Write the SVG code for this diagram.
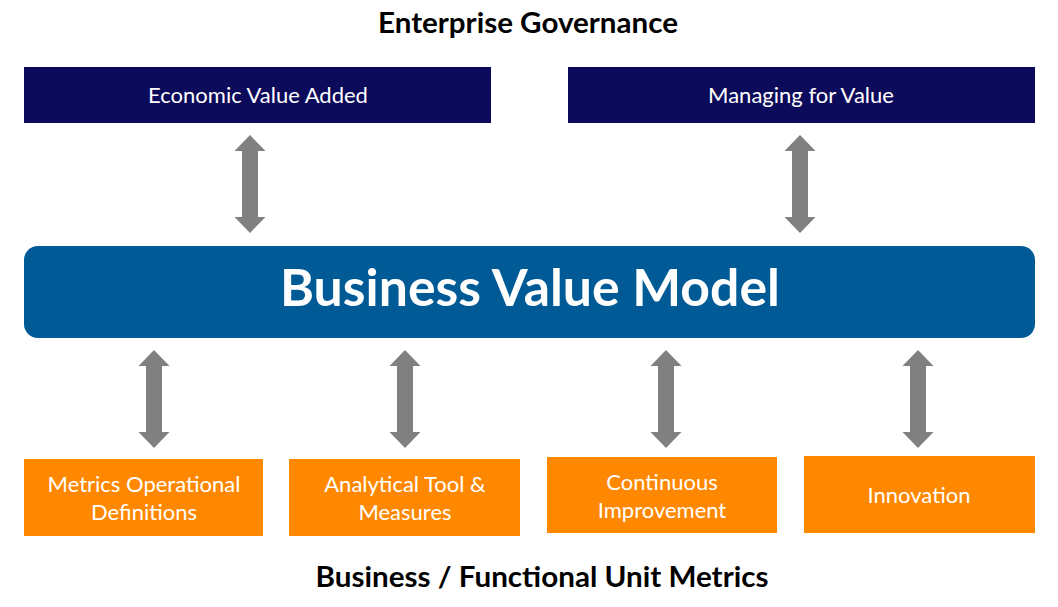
<svg xmlns="http://www.w3.org/2000/svg" width="1058" height="607" viewBox="0 0 1058 607">
<style>
.t{font-family:Lato,"Open Sans","Liberation Sans",sans-serif;text-anchor:middle}
.h{font-weight:bold;font-size:28px;fill:#000}
.lbl{font-size:22px;fill:#fff}
.navy{fill:#0c0a5a}
.org{fill:#ff8800}
.arr{fill:#808080}
</style>
<defs>
<path id="dbl" d="M0,0 L15.5,16 L8,16 L8,82 L15.5,82 L0,98 L-15.5,82 L-8,82 L-8,16 L-15.5,16 Z"/>
</defs>
<text class="t h" x="528" y="33" textLength="300" lengthAdjust="spacingAndGlyphs">Enterprise Governance</text>
<text class="t h" x="542" y="587" textLength="453" lengthAdjust="spacingAndGlyphs">Business / Functional Unit Metrics</text>
<g id="eva"><rect class="navy" x="24" y="67" width="467" height="56"/><text class="t lbl" x="258" y="103">Economic Value Added</text></g>
<g id="mfv"><rect class="navy" x="568" y="67" width="467" height="56"/><text class="t lbl" x="801" y="103">Managing for Value</text></g>
<g id="bvm"><rect x="24" y="246" width="1011" height="92" rx="14" fill="#005a96"/><text class="t" x="530" y="306" font-size="51" font-weight="bold" fill="#fff" textLength="500" lengthAdjust="spacingAndGlyphs">Business Value Model</text></g>
<g id="mod"><rect class="org" x="24" y="459" width="239" height="77"/><text class="t lbl" x="144" y="492">Metrics Operational</text><text class="t lbl" x="144" y="520">Definitions</text></g>
<g id="atm"><rect class="org" x="289" y="459" width="231" height="77"/><text class="t lbl" x="405" y="492">Analytical Tool &amp;</text><text class="t lbl" x="405" y="520">Measures</text></g>
<g id="ci"><rect class="org" x="547" y="457" width="230" height="76"/><text class="t lbl" x="662" y="490">Continuous</text><text class="t lbl" x="662" y="518">Improvement</text></g>
<g id="inn"><rect class="org" x="804" y="456" width="231" height="77"/><text class="t lbl" x="919" y="503">Innovation</text></g>
<g id="connectors" class="arr">
<use href="#dbl" x="250" y="135"/>
<use href="#dbl" x="800" y="135"/>
<use href="#dbl" x="154" y="350"/>
<use href="#dbl" x="405" y="350"/>
<use href="#dbl" x="666" y="350"/>
<use href="#dbl" x="918" y="350"/>
</g>
</svg>
